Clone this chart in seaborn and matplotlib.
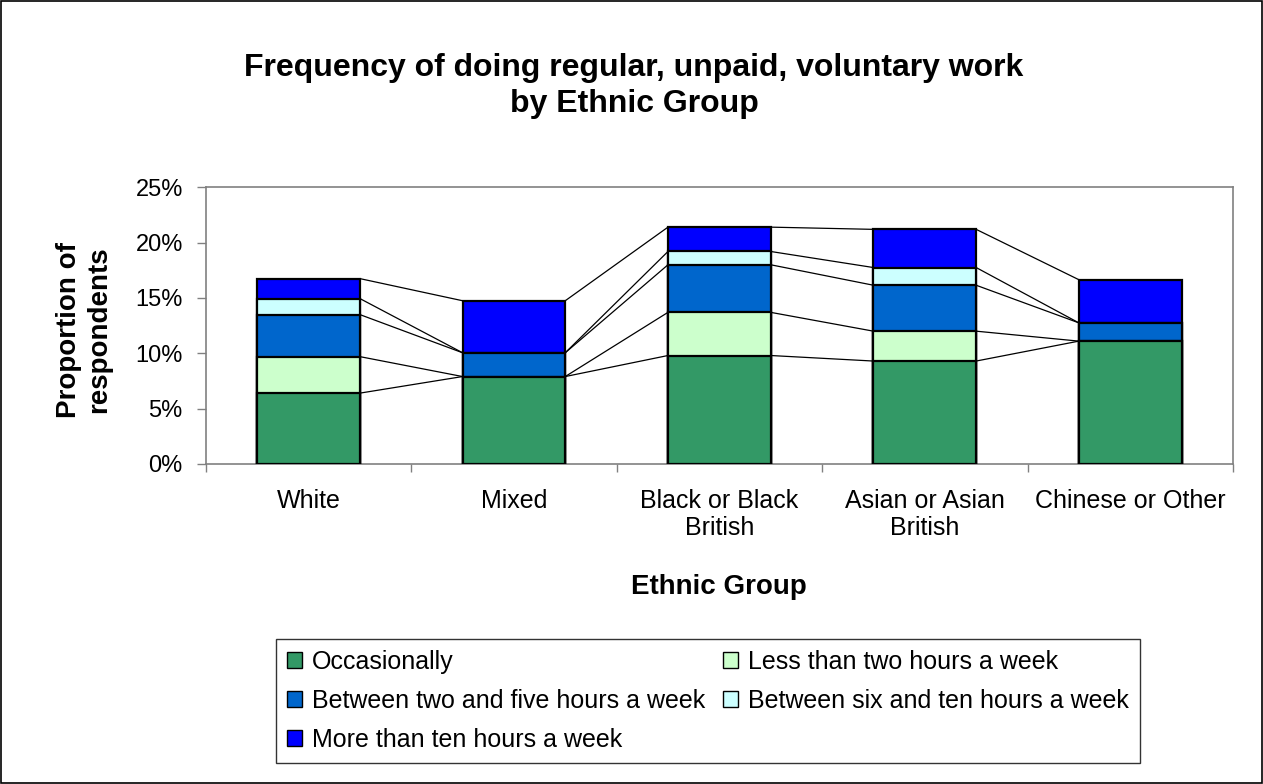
import numpy as np
import pandas as pd
import matplotlib
matplotlib.use("Agg")
import matplotlib.pyplot as plt
import seaborn as sns
from matplotlib.patches import Patch, Rectangle

groups = ["White", "Mixed", "Black or Black\nBritish", "Asian or Asian\nBritish", "Chinese or Other"]
series_names = ["Occasionally", "Less than two hours a week",
                "Between two and five hours a week", "Between six and ten hours a week",
                "More than ten hours a week"]
occasionally = [6.4, 7.9, 9.8, 9.3, 11.1]
less_two = [3.3, 0.0, 3.9, 2.7, 0.0]
two_five = [3.8, 2.15, 4.3, 4.15, 1.65]
six_ten = [1.45, 0.0, 1.2, 1.6, 0.0]
more_ten = [1.8, 4.7, 2.2, 3.45, 3.9]
colors = ["#339966", "#CCFFCC", "#0066CC", "#CCFFFF", "#0000FF"]
yticks = [0, 5, 10, 15, 20, 25]

sns.set_theme(style="white")
plt.rcParams["font.family"] = ["Liberation Sans", "DejaVu Sans"]
plt.rcParams["text.color"] = "black"

layers = np.array([occasionally, less_two, two_five, six_ten, more_ten])
cum = np.cumsum(layers, axis=0)

fig = plt.figure(figsize=(12.63, 7.84), dpi=100)
ax = fig.add_axes([0.1629, 0.4082, 0.8133, 0.3529])

bw = 0.5
for k in range(len(series_names) - 1, -1, -1):
    df = pd.DataFrame({"group": groups, "value": cum[k]})
    sns.barplot(data=df, x="group", y="value", color=colors[k], width=bw,
                edgecolor="black", linewidth=1.6, saturation=1, ax=ax, zorder=3)

# series lines
for k in range(len(series_names)):
    for i in range(len(groups) - 1):
        ax.plot([i + bw / 2, i + 1 - bw / 2], [cum[k][i], cum[k][i + 1]],
                color="black", linewidth=0.9, zorder=2)

ax.set_xlim(-0.5, len(groups) - 0.5)
ax.set_ylim(0, 25)
ax.set_yticks(yticks)
ax.set_yticklabels([f"{t}%" for t in yticks], fontsize=17)
ax.set_xticks(range(len(groups)))
ax.set_xticklabels(groups, fontsize=18, linespacing=1.15)
ax.set_xticks(np.arange(-0.5, len(groups)), minor=True)
ax.tick_params(axis="x", which="major", length=0, pad=18, labelcolor="black")
ax.tick_params(axis="x", which="minor", length=6, width=1, color="#808080", direction="out", bottom=True)
ax.tick_params(axis="y", length=6.5, width=1, color="#808080", direction="out", left=True, pad=10,
               labelcolor="black")
for s in ax.spines.values():
    s.set_color("#808080")
    s.set_linewidth(1.2)
ax.set_xlabel("")
ax.set_ylabel("")

fig.text(0.502, 0.890, "Frequency of doing regular, unpaid, voluntary work\nby Ethnic Group",
         ha="center", va="center", fontsize=23, fontweight="bold", linespacing=1.25)
fig.text(0.569, 0.251, "Ethnic Group", ha="center", va="center", fontsize=20, fontweight="bold")
fig.text(0.0665, 0.579, "Proportion of\nrespondents", ha="center", va="center",
         rotation=90, fontsize=20, fontweight="bold", linespacing=1.2)

handles = [Patch(facecolor=c, edgecolor="black", linewidth=1) for c in colors]
order = [0, 2, 4, 1, 3]
leg = fig.legend([handles[i] for i in order], [series_names[i] for i in order],
                 ncol=2, loc="upper left", bbox_to_anchor=(0.2185, 0.185),
                 fontsize=18, frameon=True, fancybox=False, edgecolor="black",
                 handlelength=0.6, handleheight=0.6, handletextpad=0.4,
                 columnspacing=0.7, labelspacing=0.6, borderpad=0.45, borderaxespad=0)
leg.get_frame().set_linewidth(1)

fig.add_artist(Rectangle((0.001, 0.001), 0.998, 0.998, transform=fig.transFigure,
                         fill=False, edgecolor="black", linewidth=1.2))

fig.savefig("out.png", dpi=100, facecolor="white")
